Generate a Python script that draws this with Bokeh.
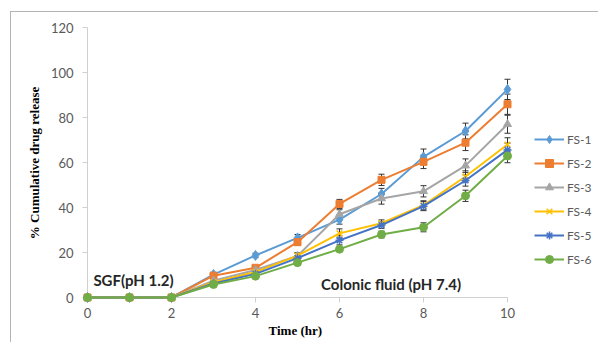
from bokeh.plotting import figure
from bokeh.models import (FixedTicker, Legend, LegendItem, Whisker, TeeHead,
                          ColumnDataSource, Label, Range1d, Title)
from bokeh.embed import file_html
from bokeh.resources import INLINE

time = [0, 1, 2, 3, 4, 5, 6, 7, 8, 9, 10]
names = ["FS-1", "FS-2", "FS-3", "FS-4", "FS-5", "FS-6"]
fs1 = [0, 0, 0, 10.2, 18.7, 26.5, 34.6, 46.0, 62.5, 74.0, 92.5]
fs2 = [0, 0, 0, 9.7, 13.2, 24.6, 41.6, 52.3, 60.3, 68.8, 85.9]
fs3 = [0, 0, 0, 7.5, 12.2, 18.5, 37.0, 44.0, 47.2, 58.6, 77.0]
fs4 = [0, 0, 0, 6.8, 11.3, 18.6, 28.5, 33.0, 41.0, 53.8, 68.0]
fs5 = [0, 0, 0, 6.2, 10.5, 17.5, 25.4, 32.2, 40.6, 52.0, 65.6]
fs6 = [0, 0, 0, 5.8, 9.5, 15.5, 21.5, 28.0, 31.2, 45.2, 62.9]
err1 = [0, 0, 0, 1.0, 1.0, 1.5, 2.0, 2.5, 3.5, 3.5, 4.5]
err2 = [0, 0, 0, 1.0, 1.0, 1.5, 2.0, 2.5, 3.0, 3.5, 4.5]
err3 = [0, 0, 0, 1.0, 1.0, 1.5, 2.0, 2.5, 2.5, 3.0, 4.0]
err4 = [0, 0, 0, 1.0, 1.0, 1.0, 2.0, 1.5, 2.0, 2.5, 3.0]
err5 = [0, 0, 0, 1.0, 1.0, 1.0, 2.0, 1.5, 2.0, 2.5, 3.0]
err6 = [0, 0, 0, 1.0, 1.0, 1.0, 1.0, 1.5, 2.0, 2.5, 3.0]
x_ticks = [0, 2, 4, 6, 8, 10]
y_ticks = [0, 20, 40, 60, 80, 100, 120]

series = [fs1, fs2, fs3, fs4, fs5, fs6]
errors = [err1, err2, err3, err4, err5, err6]
colors = ["#5B9BD5", "#ED7D31", "#A5A5A5", "#FFC000", "#4472C4", "#70AD47"]
markers = ["diamond", "square", "triangle", "x", "asterisk", "circle"]
msizes = [10, 7, 8, 8, 8, 8]

FONT = "Lato"
GRAY = "#595959"
AX = "#d0d0d0"

W, H = 598, 342
LEFT, TOP = 79, 22
XPX = 42.0
X0 = -8 / XPX
FW = W - LEFT
X1 = X0 + FW / XPX
YPX = 2.25
Y0, Y1 = -6 / YPX, 120 + 5 / YPX
FH = 281

p = figure(width=W, height=H, output_backend="svg", toolbar_location=None,
           x_range=Range1d(X0, X1), y_range=Range1d(Y0, Y1),
           min_border_left=LEFT, min_border_right=0, min_border_top=TOP,
           min_border_bottom=H - TOP - FH)
p.outline_line_color = None
p.background_fill_color = None
p.border_fill_color = None
p.xgrid.visible = False
p.ygrid.visible = False
p.styles = {"box-shadow": "inset 10px 11px 0 0 #ffffff, inset 11px 12px 0 0 #b4b4b4"}

for ax, ticks in ((p.xaxis[0], x_ticks), (p.yaxis[0], y_ticks)):
    ax.ticker = FixedTicker(ticks=ticks)
    ax.minor_tick_line_color = None
    ax.axis_line_color = None
    ax.major_tick_line_color = None
    ax.major_tick_in = 0
    ax.major_tick_out = 0
    ax.major_label_text_font = FONT
    ax.major_label_text_font_size = "13px"
    ax.major_label_text_color = GRAY

p.yaxis.axis_label = "% Cumulative drug release"
p.yaxis.axis_label_text_font = "Liberation Serif"
p.yaxis.axis_label_text_font_style = "bold"
p.yaxis.axis_label_text_font_size = "13px"
p.yaxis.axis_label_text_color = "#000000"
p.xaxis.major_label_standoff = 4
p.yaxis.major_label_standoff = 6
p.yaxis.axis_label_standoff = 6

xt = Title(text="Time (hr)", align="left", offset=189, standoff=0,
           text_font="Liberation Serif", text_font_style="bold",
           text_font_size="13px", text_color="#000000")
p.add_layout(xt, "below")

# axis lines and tick marks at the zero lines (Excel style)
p.line([x_ticks[0], x_ticks[-1]], [0, 0], line_color=AX, line_width=1)
p.line([0, 0], [y_ticks[0], y_ticks[-1]], line_color=AX, line_width=1)
p.segment(x0=x_ticks, y0=[0] * len(x_ticks), x1=x_ticks,
          y1=[-5 / YPX] * len(x_ticks), line_color=AX, line_width=1)
p.segment(x0=[0] * len(y_ticks), y0=y_ticks, x1=[-5 / XPX] * len(y_ticks),
          y1=y_ticks, line_color=AX, line_width=1)

items = []
for name, ys, es, c, m, s in zip(names, series, errors, colors, markers, msizes):
    ln = p.line(time, ys, line_color=c, line_width=2)
    idx = [i for i, e in enumerate(es) if e > 0]
    src = ColumnDataSource(dict(x=[time[i] for i in idx],
                                up=[ys[i] + es[i] for i in idx],
                                lo=[ys[i] - es[i] for i in idx]))
    w = Whisker(source=src, base="x", upper="up", lower="lo",
                line_color="#333333", line_width=1,
                upper_head=TeeHead(size=6, line_color="#333333", line_width=1),
                lower_head=TeeHead(size=6, line_color="#333333", line_width=1))
    p.add_layout(w)
    if m in ("x", "asterisk"):
        sc = p.scatter(time, ys, marker=m, size=s, line_color=c, line_width=1.5)
    else:
        sc = p.scatter(time, ys, marker=m, size=s, fill_color=c, line_color=c)
    items.append(LegendItem(label=name, renderers=[ln, sc]))

legend = Legend(items=items, location=(455, 34), padding=0, margin=0,
                spacing=4, glyph_width=30, glyph_height=20, label_height=20,
                label_standoff=3, label_text_font=FONT,
                label_text_font_size="12px", label_text_color=GRAY,
                border_line_color=None, background_fill_alpha=0)
p.add_layout(legend)

p.add_layout(Label(x=0.14, y=7.6, text="SGF(pH 1.2)", text_font=FONT,
                   text_font_style="bold", text_font_size="15px",
                   text_color="#262626", text_baseline="middle"))
p.add_layout(Label(x=5.56, y=5.8, text="Colonic fluid (pH 7.4)", text_font=FONT,
                   text_font_style="bold", text_font_size="15px",
                   text_color="#262626", text_baseline="middle"))

open("out.html", "w").write(file_html(p, INLINE))
